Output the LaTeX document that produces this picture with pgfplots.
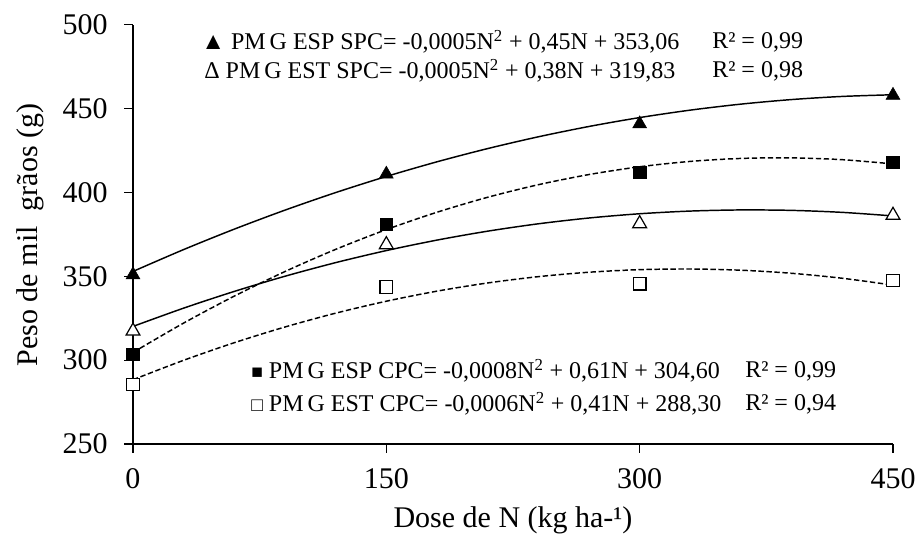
\documentclass[border=0pt]{standalone}
\usepackage{pgfplots}
\usepackage{pgfplotstable}
\pgfplotsset{compat=1.18}
\usepackage{fontspec}
\setmainfont{Liberation Serif}

% Observed thousand-grain weight (g) at each N dose
\pgfplotstableread{
N   espspc  estspc  espcpc  estcpc
0   352     318.5   303.5   285.5
150 412     370     381     343.5
300 442     382.5   412     345.5
450 459     387.5   418     347.5
}\pmg

% Quadratic trend lines sampled every 30 kg/ha
\pgfplotstableread{
N    espspc  estspc  espcpc  estcpc
0    352.85  320.08  304.58  288.30
30   365.89  330.98  322.08  299.90
60   378.07  340.95  338.15  310.38
90   389.39  349.99  352.79  319.74
120  399.85  358.10  366.00  327.98
150  409.45  365.28  377.78  335.10
180  418.19  371.53  388.13  341.10
210  426.07  376.85  397.05  345.98
240  433.09  381.24  404.54  349.74
270  439.25  384.70  410.60  352.38
300  444.55  387.23  415.23  353.90
330  448.99  388.83  418.43  354.30
360  452.57  389.50  420.20  353.58
390  455.29  389.24  420.54  351.74
420  457.15  388.05  419.45  348.78
450  458.15  385.93  416.93  344.70
}\trend

\newcommand\eqfont{\fontsize{18}{21}\selectfont}
\newcommand\tickfont{\fontsize{22.5}{26}\selectfont}
\newcommand\smallsym[1]{{\fontsize{14.5}{16}\selectfont #1}}

\begin{document}
\begin{tikzpicture}[x=0.75pt,y=0.75pt]
\useasboundingbox (-133,-100) rectangle (785,444);
\begin{axis}[
  at={(0,0)}, anchor=south west,
  scale only axis, width=570pt, height=314.6pt,
  xmin=0, xmax=450, ymin=250, ymax=500,
  axis x line*=bottom, axis y line*=left,
  axis line style={-, line width=0.9pt},
  xtick={0,150,300,450},
  ytick={250,300,350,400,450,500},
  tick align=outside, major tick length=6.5pt,
  tick style={black, line width=0.9pt},
  /pgf/number format/assume math mode=true,
  xticklabel style={font=\tickfont, yshift=-8pt},
  yticklabel style={font=\tickfont, xshift=-9pt},
  clip=false,
  trend/.style={black, no marks, smooth, line width=1.1pt},
  dashed trend/.style={trend, dash pattern=on 4pt off 2pt},
  tri/.style={only marks, mark=triangle*, mark size=6pt},
  sq/.style={only marks, mark=square*, mark size=4.7pt},
]
% trend lines
\addplot[trend] table[x=N,y=espspc]{\trend};
\addplot[trend] table[x=N,y=estspc]{\trend};
\addplot[dashed trend] table[x=N,y=espcpc]{\trend};
\addplot[dashed trend] table[x=N,y=estcpc]{\trend};
% observed means
\addplot[tri, mark options={draw=black, fill=black, yshift=-1.5pt}] table[x=N,y=espspc]{\pmg};
\addplot[tri, mark options={draw=black, fill=white, line width=0.9pt, yshift=-1.5pt}] table[x=N,y=estspc]{\pmg};
\addplot[sq, mark options={draw=black, fill=black}] table[x=N,y=espcpc]{\pmg};
\addplot[sq, mark options={draw=black, fill=white, line width=0.9pt}] table[x=N,y=estcpc]{\pmg};
\end{axis}

% regression equations
\node[anchor=west, font=\eqfont, inner sep=0pt] at (68,402) {▲ PM\,G ESP SPC= -0,0005N\textsuperscript{2} + 0,45N + 353,06};
\node[anchor=west, font=\eqfont, inner sep=0pt] at (579,402) {R² = 0,99};
\node[anchor=west, font=\eqfont, inner sep=0pt] at (71,373) {Δ PM\,G EST SPC= -0,0005N\textsuperscript{2} + 0,38N + 319,83};
\node[anchor=west, font=\eqfont, inner sep=0pt] at (579,373) {R² = 0,98};
\node[anchor=west, font=\eqfont, inner sep=0pt] at (118,73) {\smallsym{■} PM\,G ESP CPC= -0,0008N\textsuperscript{2} + 0,61N + 304,60};
\node[anchor=west, font=\eqfont, inner sep=0pt] at (612,73) {R² = 0,99};
\node[anchor=west, font=\eqfont, inner sep=0pt] at (118,40) {\smallsym{□} PM\,G EST CPC= -0,0006N\textsuperscript{2} + 0,41N + 288,30};
\node[anchor=west, font=\eqfont, inner sep=0pt] at (612,40) {R² = 0,94};

% axis titles
\node[font=\tickfont] at (380,-76) {Dose de N (kg ha-¹)};
\node[font=\tickfont, rotate=90] at (-103,209) {Peso de mil\ \ grãos (g)};
\end{tikzpicture}
\end{document}
